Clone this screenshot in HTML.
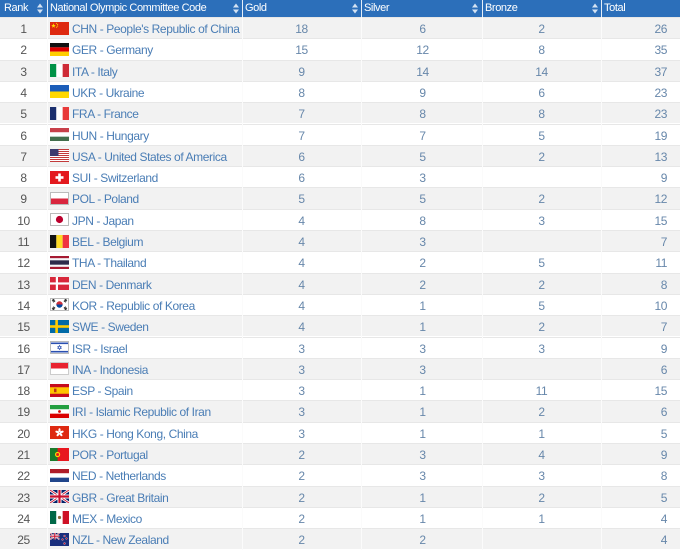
<!DOCTYPE html>
<html>
<head>
<meta charset="utf-8">
<style>
html,body{margin:0;padding:0;background:#fff;}
body{width:680px;height:550px;position:relative;overflow:hidden;font-family:"Liberation Sans",sans-serif;}
.hd{position:absolute;left:0;top:0;width:680px;height:17px;background:#2c6fba;}
.hd .h{position:absolute;top:0;height:17px;line-height:17px;color:#fff;font-size:11px;letter-spacing:-0.4px;}
.hd .dv{position:absolute;top:0;width:1px;height:17px;background:#e6eef8;}
.hd svg{position:absolute;top:3px;}
.r{position:absolute;left:0;width:680px;height:21.3px;border-top:1px solid #e7e7e7;box-sizing:border-box;font-size:12px;letter-spacing:-0.4px;}
.r.o{background:#f2f2f2;}
.r div{position:absolute;top:1px;height:20px;line-height:20px;}
.rk{left:0;width:47px;text-align:center;color:#555;}
.nm{left:72px;color:#4a7db5;white-space:nowrap;}
.g{left:242px;width:119px;text-align:center;color:#6787aa;}
.s{left:362px;width:121px;text-align:center;color:#6787aa;}
.b{left:482px;width:119px;text-align:center;color:#6787aa;}
.t{left:601px;width:66px;text-align:right;color:#6787aa;}
.r svg{position:absolute;left:50px;top:3.5px;}
.vl{position:absolute;top:17px;width:1px;height:533px;background:#fbfbfb;}
</style>
</head>
<body>
<div class="hd">
  <div class="h" style="left:4px">Rank</div>
  <svg width="6" height="11" style="left:36.5px"><polygon points="0,4.5 3,0.5 6,4.5" fill="#d3e2f3"/><polygon points="0,6.5 3,10.5 6,6.5" fill="#d3e2f3"/></svg>
  <div class="dv" style="left:47px"></div>
  <div class="h" style="left:50px">National Olympic Committee Code</div>
  <svg width="6" height="11" style="left:233px"><polygon points="0,4.5 3,0.5 6,4.5" fill="#d3e2f3"/><polygon points="0,6.5 3,10.5 6,6.5" fill="#d3e2f3"/></svg>
  <div class="dv" style="left:242px"></div>
  <div class="h" style="left:245px">Gold</div>
  <svg width="6" height="11" style="left:352px"><polygon points="0,4.5 3,0.5 6,4.5" fill="#d3e2f3"/><polygon points="0,6.5 3,10.5 6,6.5" fill="#d3e2f3"/></svg>
  <div class="dv" style="left:361px"></div>
  <div class="h" style="left:364px">Silver</div>
  <svg width="6" height="11" style="left:472px"><polygon points="0,4.5 3,0.5 6,4.5" fill="#d3e2f3"/><polygon points="0,6.5 3,10.5 6,6.5" fill="#d3e2f3"/></svg>
  <div class="dv" style="left:482px"></div>
  <div class="h" style="left:485px">Bronze</div>
  <svg width="6" height="11" style="left:592px"><polygon points="0,4.5 3,0.5 6,4.5" fill="#d3e2f3"/><polygon points="0,6.5 3,10.5 6,6.5" fill="#d3e2f3"/></svg>
  <div class="dv" style="left:601px"></div>
  <div class="h" style="left:604px">Total</div>
</div>

<div class="r o" style="top:17px"><div class="rk">1</div>
<svg width="19" height="13"><rect width="19" height="13" fill="#de2910"/><polygon fill="#ffde00" points="3.5,1.3 4.1,3 5.8,3 4.4,4 5,5.7 3.5,4.7 2,5.7 2.6,4 1.2,3 2.9,3"/><circle cx="6.6" cy="1.4" r="0.55" fill="#ffde00"/><circle cx="7.6" cy="2.6" r="0.55" fill="#ffde00"/><circle cx="7.6" cy="4.1" r="0.55" fill="#ffde00"/><circle cx="6.6" cy="5.2" r="0.55" fill="#ffde00"/></svg>
<div class="nm">CHN - People's Republic of China</div><div class="g">18</div><div class="s">6</div><div class="b">2</div><div class="t">26</div></div>

<div class="r" style="top:38.3px"><div class="rk">2</div>
<svg width="19" height="13"><rect width="19" height="4.34" fill="#111"/><rect y="4.33" width="19" height="4.34" fill="#dd0000"/><rect y="8.66" width="19" height="4.34" fill="#ffce00"/></svg>
<div class="nm">GER - Germany</div><div class="g">15</div><div class="s">12</div><div class="b">8</div><div class="t">35</div></div>

<div class="r o" style="top:59.6px"><div class="rk">3</div>
<svg width="19" height="13"><rect width="6.34" height="13" fill="#009246"/><rect x="6.33" width="6.34" height="13" fill="#fff"/><rect x="12.66" width="6.34" height="13" fill="#ce2b37"/></svg>
<div class="nm">ITA - Italy</div><div class="g">9</div><div class="s">14</div><div class="b">14</div><div class="t">37</div></div>

<div class="r" style="top:80.9px"><div class="rk">4</div>
<svg width="19" height="13"><rect width="19" height="6.5" fill="#1a5cb8"/><rect y="6.5" width="19" height="6.5" fill="#ffd700"/></svg>
<div class="nm">UKR - Ukraine</div><div class="g">8</div><div class="s">9</div><div class="b">6</div><div class="t">23</div></div>

<div class="r o" style="top:102.2px"><div class="rk">5</div>
<svg width="19" height="13"><rect width="6.34" height="13" fill="#1b2f6e"/><rect x="6.33" width="6.34" height="13" fill="#fff"/><rect x="12.66" width="6.34" height="13" fill="#e83a3a"/></svg>
<div class="nm">FRA - France</div><div class="g">7</div><div class="s">8</div><div class="b">8</div><div class="t">23</div></div>

<div class="r" style="top:123.5px"><div class="rk">6</div>
<svg width="19" height="13"><rect width="19" height="4.34" fill="#c8404a"/><rect y="4.33" width="19" height="4.34" fill="#fff"/><rect y="8.66" width="19" height="4.34" fill="#436f4d"/></svg>
<div class="nm">HUN - Hungary</div><div class="g">7</div><div class="s">7</div><div class="b">5</div><div class="t">19</div></div>

<div class="r o" style="top:144.8px"><div class="rk">7</div>
<svg width="19" height="13"><rect width="19" height="13" fill="#c23a3a"/><rect y="1" width="19" height="1" fill="#fff"/><rect y="3" width="19" height="1" fill="#fff"/><rect y="5" width="19" height="1" fill="#fff"/><rect y="7" width="19" height="1" fill="#fff"/><rect y="9" width="19" height="1" fill="#fff"/><rect y="11" width="19" height="1" fill="#fff"/><rect width="8.5" height="7" fill="#3c3b6e"/></svg>
<div class="nm">USA - United States of America</div><div class="g">6</div><div class="s">5</div><div class="b">2</div><div class="t">13</div></div>

<div class="r" style="top:166.1px"><div class="rk">8</div>
<svg width="19" height="13"><rect width="19" height="13" fill="#e3191e"/><rect x="8.2" y="2.5" width="2.6" height="8" fill="#fff"/><rect x="5.5" y="5.2" width="8" height="2.6" fill="#fff"/></svg>
<div class="nm">SUI - Switzerland</div><div class="g">6</div><div class="s">3</div><div class="b"></div><div class="t">9</div></div>

<div class="r o" style="top:187.4px"><div class="rk">9</div>
<svg width="19" height="13"><rect width="19" height="6.5" fill="#fff"/><rect y="6.5" width="19" height="6.5" fill="#d9263e"/><rect x="0.5" y="0.5" width="18" height="12" fill="none" stroke="#bbb" stroke-width="1"/></svg>
<div class="nm">POL - Poland</div><div class="g">5</div><div class="s">5</div><div class="b">2</div><div class="t">12</div></div>

<div class="r" style="top:208.7px"><div class="rk">10</div>
<svg width="19" height="13"><rect width="19" height="13" fill="#fff"/><circle cx="9.5" cy="6.5" r="3.6" fill="#bc002d"/><rect x="0.5" y="0.5" width="18" height="12" fill="none" stroke="#bbb" stroke-width="1"/></svg>
<div class="nm">JPN - Japan</div><div class="g">4</div><div class="s">8</div><div class="b">3</div><div class="t">15</div></div>

<div class="r o" style="top:230px"><div class="rk">11</div>
<svg width="19" height="13"><rect width="6.34" height="13" fill="#111"/><rect x="6.33" width="6.34" height="13" fill="#fdda24"/><rect x="12.66" width="6.34" height="13" fill="#ef3340"/></svg>
<div class="nm">BEL - Belgium</div><div class="g">4</div><div class="s">3</div><div class="b"></div><div class="t">7</div></div>

<div class="r" style="top:251.3px"><div class="rk">12</div>
<svg width="19" height="13"><rect width="19" height="13" fill="#a51931"/><rect y="2.17" width="19" height="8.66" fill="#f4f5f8"/><rect y="4.33" width="19" height="4.34" fill="#2d2a4a"/></svg>
<div class="nm">THA - Thailand</div><div class="g">4</div><div class="s">2</div><div class="b">5</div><div class="t">11</div></div>

<div class="r o" style="top:272.6px"><div class="rk">13</div>
<svg width="19" height="13"><rect width="19" height="13" fill="#d8283b"/><rect x="5.8" width="2.2" height="13" fill="#fff"/><rect y="5.4" width="19" height="2.2" fill="#fff"/></svg>
<div class="nm">DEN - Denmark</div><div class="g">4</div><div class="s">2</div><div class="b">2</div><div class="t">8</div></div>

<div class="r" style="top:293.9px"><div class="rk">14</div>
<svg width="19" height="13"><rect width="19" height="13" fill="#fff"/><path d="M6.3,6.5 A3.2,3.2 0 0 1 12.7,6.5Z" fill="#cd2e3a"/><path d="M6.3,6.5 A3.2,3.2 0 0 0 12.7,6.5Z" fill="#0047a0"/><g stroke="#222" stroke-width="0.9"><path d="M2,2.5L4,1M2.6,3.4L4.6,1.9M3.2,4.3L5.2,2.8"/><path d="M15,1L17,2.5M14.4,1.9L16.4,3.4M13.8,2.8L15.8,4.3"/><path d="M2,10.5L4,12M2.6,9.6L4.6,11.1M3.2,8.7L5.2,10.2"/><path d="M15,12L17,10.5M14.4,11.1L16.4,9.6M13.8,10.2L15.8,8.7"/></g><rect x="0.5" y="0.5" width="18" height="12" fill="none" stroke="#bbb" stroke-width="1"/></svg>
<div class="nm">KOR - Republic of Korea</div><div class="g">4</div><div class="s">1</div><div class="b">5</div><div class="t">10</div></div>

<div class="r o" style="top:315.2px"><div class="rk">15</div>
<svg width="19" height="13"><rect width="19" height="13" fill="#006aa7"/><rect x="5.3" width="2.6" height="13" fill="#fecc00"/><rect y="5.2" width="19" height="2.6" fill="#fecc00"/></svg>
<div class="nm">SWE - Sweden</div><div class="g">4</div><div class="s">1</div><div class="b">2</div><div class="t">7</div></div>

<div class="r" style="top:336.5px"><div class="rk">16</div>
<svg width="19" height="13"><rect width="19" height="13" fill="#fff"/><rect y="1.5" width="19" height="1.6" fill="#2a4fb0"/><rect y="9.9" width="19" height="1.6" fill="#2a4fb0"/><polygon points="9.5,4.3 11.3,7.5 7.7,7.5" fill="none" stroke="#2a4fb0" stroke-width="0.6"/><polygon points="9.5,8.7 11.3,5.5 7.7,5.5" fill="none" stroke="#2a4fb0" stroke-width="0.6"/><rect x="0.5" y="0.5" width="18" height="12" fill="none" stroke="#bbb" stroke-width="1"/></svg>
<div class="nm">ISR - Israel</div><div class="g">3</div><div class="s">3</div><div class="b">3</div><div class="t">9</div></div>

<div class="r o" style="top:357.8px"><div class="rk">17</div>
<svg width="19" height="13"><rect width="19" height="6.5" fill="#e8222f"/><rect y="6.5" width="19" height="6.5" fill="#fff"/><rect x="0.5" y="0.5" width="18" height="12" fill="none" stroke="#ccc" stroke-width="1"/></svg>
<div class="nm">INA - Indonesia</div><div class="g">3</div><div class="s">3</div><div class="b"></div><div class="t">6</div></div>

<div class="r" style="top:379.1px"><div class="rk">18</div>
<svg width="19" height="13"><rect width="19" height="13" fill="#c60b1e"/><rect y="3.25" width="19" height="6.5" fill="#ffc400"/><rect x="4" y="4.6" width="2.5" height="3.6" fill="#ad1519" opacity="0.8"/></svg>
<div class="nm">ESP - Spain</div><div class="g">3</div><div class="s">1</div><div class="b">11</div><div class="t">15</div></div>

<div class="r o" style="top:400.4px"><div class="rk">19</div>
<svg width="19" height="13"><rect width="19" height="4.34" fill="#239f40"/><rect y="4.33" width="19" height="4.34" fill="#fff"/><rect y="8.66" width="19" height="4.34" fill="#da0000"/><circle cx="9.5" cy="6.5" r="1.4" fill="#da0000"/></svg>
<div class="nm">IRI - Islamic Republic of Iran</div><div class="g">3</div><div class="s">1</div><div class="b">2</div><div class="t">6</div></div>

<div class="r" style="top:421.7px"><div class="rk">20</div>
<svg width="19" height="13"><rect width="19" height="13" fill="#de2910"/><g fill="#fff"><ellipse cx="9.5" cy="4.2" rx="1.1" ry="2"/><ellipse cx="11.7" cy="5.9" rx="1.1" ry="2" transform="rotate(72 11.7 5.9)"/><ellipse cx="10.9" cy="8.5" rx="1.1" ry="2" transform="rotate(144 10.9 8.5)"/><ellipse cx="8.1" cy="8.5" rx="1.1" ry="2" transform="rotate(216 8.1 8.5)"/><ellipse cx="7.3" cy="5.9" rx="1.1" ry="2" transform="rotate(288 7.3 5.9)"/></g></svg>
<div class="nm">HKG - Hong Kong, China</div><div class="g">3</div><div class="s">1</div><div class="b">1</div><div class="t">5</div></div>

<div class="r o" style="top:443px"><div class="rk">21</div>
<svg width="19" height="13"><rect width="19" height="13" fill="#e8171f"/><rect width="7.6" height="13" fill="#1a7a2a"/><circle cx="7.6" cy="6.5" r="2.6" fill="#ffe000"/><circle cx="7.6" cy="6.5" r="1.5" fill="#e8171f"/></svg>
<div class="nm">POR - Portugal</div><div class="g">2</div><div class="s">3</div><div class="b">4</div><div class="t">9</div></div>

<div class="r" style="top:464.3px"><div class="rk">22</div>
<svg width="19" height="13"><rect width="19" height="4.34" fill="#ae1c28"/><rect y="4.33" width="19" height="4.34" fill="#fff"/><rect y="8.66" width="19" height="4.34" fill="#21468b"/></svg>
<div class="nm">NED - Netherlands</div><div class="g">2</div><div class="s">3</div><div class="b">3</div><div class="t">8</div></div>

<div class="r o" style="top:485.6px"><div class="rk">23</div>
<svg width="19" height="13"><rect width="19" height="13" fill="#012169"/><path d="M0,0L19,13M19,0L0,13" stroke="#fff" stroke-width="2.6"/><path d="M0,0L19,13M19,0L0,13" stroke="#c8102e" stroke-width="0.9"/><path d="M9.5,0V13M0,6.5H19" stroke="#fff" stroke-width="4"/><path d="M9.5,0V13M0,6.5H19" stroke="#c8102e" stroke-width="2.2"/></svg>
<div class="nm">GBR - Great Britain</div><div class="g">2</div><div class="s">1</div><div class="b">2</div><div class="t">5</div></div>

<div class="r" style="top:506.9px"><div class="rk">24</div>
<svg width="19" height="13"><rect width="6.34" height="13" fill="#006847"/><rect x="6.33" width="6.34" height="13" fill="#fff"/><rect x="12.66" width="6.34" height="13" fill="#ce1126"/><circle cx="9.5" cy="6.5" r="1.6" fill="#8a6a3a"/></svg>
<div class="nm">MEX - Mexico</div><div class="g">2</div><div class="s">1</div><div class="b">1</div><div class="t">4</div></div>

<div class="r o" style="top:528.2px"><div class="rk">25</div>
<svg width="19" height="13"><rect width="19" height="13" fill="#1a2f7d"/><g><rect width="9.5" height="6.5" fill="#012169"/><path d="M0,0L9.5,6.5M9.5,0L0,6.5" stroke="#fff" stroke-width="1.4"/><path d="M0,0L9.5,6.5M9.5,0L0,6.5" stroke="#c8102e" stroke-width="0.5"/><path d="M4.75,0V6.5M0,3.25H9.5" stroke="#fff" stroke-width="2"/><path d="M4.75,0V6.5M0,3.25H9.5" stroke="#c8102e" stroke-width="1.1"/></g><g fill="#cc142b" stroke="#fff" stroke-width="0.3"><circle cx="14.5" cy="3" r="0.9"/><circle cx="16.5" cy="5.5" r="0.9"/><circle cx="12.5" cy="6.5" r="0.9"/><circle cx="14.5" cy="10.5" r="1"/></g></svg>
<div class="nm">NZL - New Zealand</div><div class="g">2</div><div class="s">2</div><div class="b"></div><div class="t">4</div></div>

<div class="vl" style="left:47px"></div>
<div class="vl" style="left:242px"></div>
<div class="vl" style="left:361px"></div>
<div class="vl" style="left:482px"></div>
<div class="vl" style="left:601px"></div>
</body>
</html>
